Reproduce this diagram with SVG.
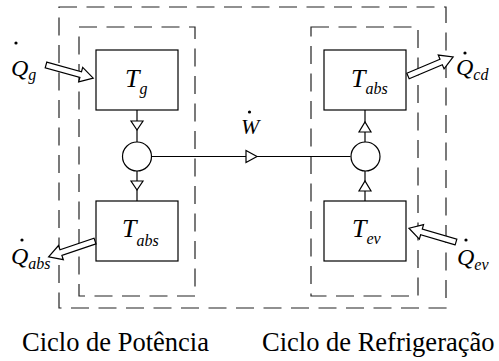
<svg xmlns="http://www.w3.org/2000/svg" width="499" height="361" viewBox="0 0 499 361">
  <style>
    .frame { fill: none; stroke: #222; stroke-width: 1.2; stroke-dasharray: 18 9.5; }
    .box { fill: #fff; stroke: #000; stroke-width: 1.2; }
    .line { fill: none; stroke: #000; stroke-width: 1.2; }
    .tri { fill: #fff; stroke: #000; stroke-width: 1.2; stroke-linejoin: miter; }
    .heat { fill: #fff; stroke: #000; stroke-width: 1.2; stroke-linejoin: miter; }
    text { font-family: 'Liberation Serif', 'Times New Roman', serif; fill: #000; }
    .sym { font-style: italic; font-size: 26px; }
    .q { font-size: 24px; }
    .w { font-size: 22px; }
    .sub { font-size: 16px; }
    .cap { font-size: 26.5px; }
    .dot { fill: #000; }
  </style>
  <defs>
    <!-- hollow block arrow for heat flows, drawn along +x from its tail -->
    <polygon id="heatArrow" class="heat" points="0,-3 36,-3 36,-7.5 49,0 36,7.5 36,3 0,3"/>
  </defs>

  <!-- cycle boundaries -->
  <g id="boundaries">
    <rect class="frame" x="59" y="7" width="387" height="301"/>
    <rect class="frame" x="79" y="27" width="116" height="269"/>
    <rect class="frame" x="311" y="27" width="107" height="269"/>
  </g>

  <!-- connectors -->
  <g id="connectors">
    <line class="line" x1="137" y1="110" x2="137" y2="142"/>
    <polygon class="tri" points="131,121 143,121 137,130"/>
    <line class="line" x1="137" y1="171" x2="137" y2="201"/>
    <polygon class="tri" points="131,181 143,181 137,190"/>

    <line class="line" x1="365" y1="110" x2="365" y2="142"/>
    <polygon class="tri" points="359,132 371,132 365,122"/>
    <line class="line" x1="365" y1="171" x2="365" y2="201"/>
    <polygon class="tri" points="359,191 371,191 365,181"/>

    <line class="line" x1="151.5" y1="156.5" x2="350.5" y2="156.5"/>
    <polygon class="tri" points="246,150.5 246,162.5 257,156.5"/>
  </g>

  <!-- power cycle -->
  <g id="node-tg">
    <rect class="box" x="96" y="50" width="82" height="60"/>
    <text class="sym" x="125" y="87">T<tspan class="sub" dy="7">g</tspan></text>
  </g>
  <g id="node-tabs-power">
    <rect class="box" x="96" y="201" width="82" height="60"/>
    <text class="sym" x="122" y="237">T<tspan class="sub" dy="9">abs</tspan></text>
  </g>
  <g id="junction-power">
    <circle class="box" cx="137" cy="156.5" r="14.5"/>
  </g>

  <!-- refrigeration cycle -->
  <g id="node-tabs-refrig">
    <rect class="box" x="324" y="50" width="82" height="60"/>
    <text class="sym" x="351" y="87">T<tspan class="sub" dy="7">abs</tspan></text>
  </g>
  <g id="node-tev">
    <rect class="box" x="324" y="201" width="82" height="60"/>
    <text class="sym" x="352" y="237">T<tspan class="sub" dy="7">ev</tspan></text>
  </g>
  <g id="junction-refrig">
    <circle class="box" cx="365.5" cy="156.5" r="14.5"/>
  </g>

  <!-- work transfer -->
  <g id="label-work">
    <circle class="dot" cx="249.5" cy="112" r="1.6"/>
    <text class="sym w" x="241" y="134">W</text>
  </g>

  <!-- heat flows -->
  <g id="heat-g">
    <use href="#heatArrow" transform="translate(46,65) rotate(15.5)"/>
    <circle class="dot" cx="16" cy="43" r="1.6"/>
    <text class="sym q" x="11" y="76">Q<tspan class="sub" dy="4">g</tspan></text>
  </g>
  <g id="heat-abs">
    <use href="#heatArrow" transform="translate(95,241) rotate(161.2)"/>
    <circle class="dot" cx="22" cy="240" r="1.6"/>
    <text class="sym q" x="11" y="264">Q<tspan class="sub" dy="5">abs</tspan></text>
  </g>
  <g id="heat-cd">
    <use href="#heatArrow" transform="translate(408,76) rotate(-22.9)"/>
    <circle class="dot" cx="465" cy="53" r="1.6"/>
    <text class="sym q" x="456" y="75">Q<tspan class="sub" dy="5">cd</tspan></text>
  </g>
  <g id="heat-ev">
    <use href="#heatArrow" transform="translate(456,242) rotate(196.3)"/>
    <circle class="dot" cx="466" cy="240" r="1.6"/>
    <text class="sym q" x="457" y="265">Q<tspan class="sub" dy="5">ev</tspan></text>
  </g>

  <!-- captions -->
  <g id="captions">
    <text class="cap" x="22" y="351">Ciclo de Potência</text>
    <text class="cap" x="262" y="351">Ciclo de Refrigeração</text>
  </g>
</svg>
